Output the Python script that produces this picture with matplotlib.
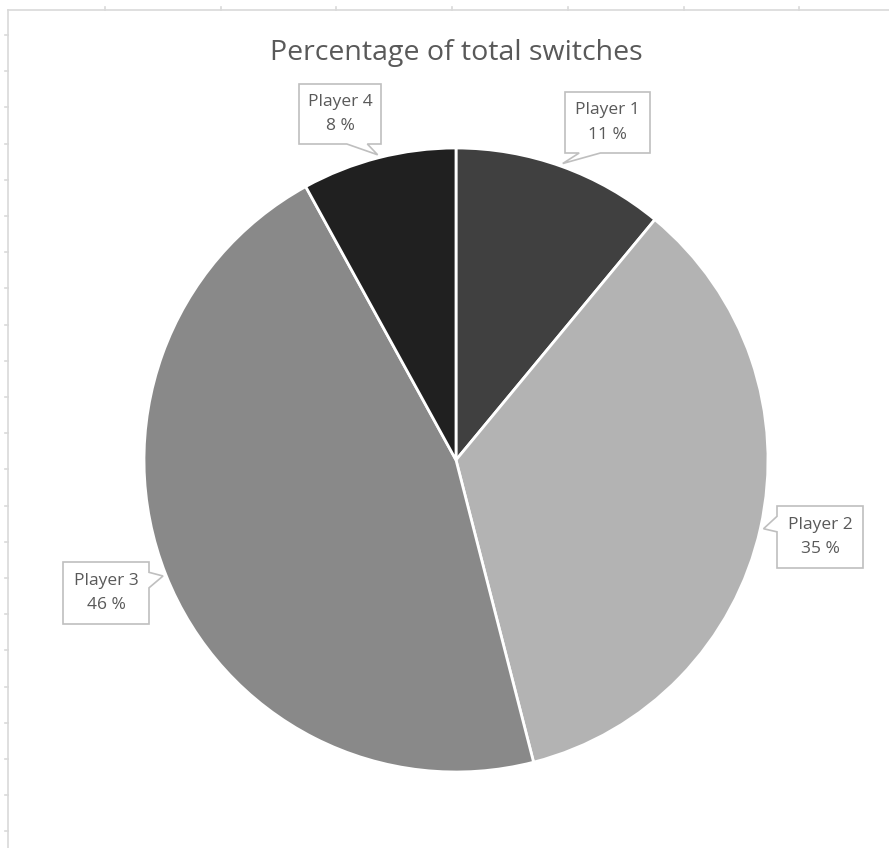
import numpy as np
import matplotlib

matplotlib.use("Agg")
import matplotlib.pyplot as plt
from matplotlib.patches import Polygon
from matplotlib.lines import Line2D

# ── data ──────────────────────────────────────────────────────────────
players = ["Player 1", "Player 2", "Player 3", "Player 4"]
share = [11, 35, 46, 8]
colors = ["#404040", "#b3b3b3", "#898989", "#202020"]

TITLE = "Percentage of total switches"
TXT = "#595959"
EDGE = "#bfbfbf"

W, H = 889, 848
fig = plt.figure(figsize=(W / 100, H / 100), dpi=100)


def fx(x, y):
    # pixel (from top-left) -> figure fraction
    return x / W, 1 - y / H


# chart frame and the little sheet-grid stubs around it
frame = dict(color="#d9d9d9", lw=1.2, transform=fig.transFigure)
fig.add_artist(Line2D([8 / W, 1], [1 - 10 / H] * 2, **frame))
fig.add_artist(Line2D([8 / W] * 2, [0, 1 - 10 / H], **frame))
for xs in np.arange(105, W, 115.7):
    fig.add_artist(Line2D([xs / W] * 2, [1 - 7 / H, 1 - 10 / H], **frame))
for ys in np.arange(35, H, 36.2):
    fig.add_artist(Line2D([5 / W, 8 / W], [1 - ys / H] * 2, **frame))

# pie: centre (456, 460) px, radius 312 px
cx, cy, R = 456, 460, 312
ax = fig.add_axes([(cx - R) / W, (H - cy - R) / H, 2 * R / W, 2 * R / H])
wedges, _ = ax.pie(share, colors=colors, startangle=90, counterclock=False,
                   wedgeprops=dict(edgecolor="white", linewidth=2))
ax.set_xlim(-1, 1)
ax.set_ylim(-1, 1)
ax.set_aspect("equal")
ax.axis("off")

fig.text(*fx(456, 53), TITLE, ha="center", va="center",
         fontsize=20.5, color=TXT, family=["Open Sans", "DejaVu Sans"])

# callout boxes: (left, top, width, height) in px
boxes = [(565, 92, 85, 61), (777, 506, 86, 62),
         (63, 562, 86, 62), (299, 84, 82, 60)]

fig.canvas.draw()
inv = fig.transFigure.inverted()


def callout(box, tip):
    l, t, w, h = box
    r, b = l + w, t + h
    mx, my = l + w / 2, t + h / 2
    dx, dy = tip[0] - mx, tip[1] - my
    lo, hi = (2 / 12, 5 / 12), (7 / 12, 10 / 12)
    if abs(dx) / w > abs(dy) / h:
        f0, f1 = lo if dy < 0 else hi
        y0, y1 = t + f0 * h, t + f1 * h
        if dx < 0:
            pts = [(l, t), (r, t), (r, b), (l, b), (l, y1), tip, (l, y0)]
        else:
            pts = [(l, t), (r, t), (r, y0), tip, (r, y1), (r, b), (l, b)]
    else:
        f0, f1 = lo if dx < 0 else hi
        x0, x1 = l + f0 * w, l + f1 * w
        if dy > 0:
            pts = [(l, t), (r, t), (r, b), (x1, b), tip, (x0, b), (l, b)]
        else:
            pts = [(l, t), (x0, t), tip, (x1, t), (r, t), (r, b), (l, b)]
    fig.add_artist(Polygon([fx(*p) for p in pts], closed=True,
                           facecolor="white", edgecolor=EDGE, lw=1.2,
                           transform=fig.transFigure, zorder=5))
    return mx, my


for wdg, name, val, box in zip(wedges, players, share, boxes):
    mid = np.deg2rad((wdg.theta1 + wdg.theta2) / 2)
    disp = ax.transData.transform((1.01 * np.cos(mid), 1.01 * np.sin(mid)))
    tx, ty = inv.transform(disp)
    tip = (tx * W, (1 - ty) * H)
    mx, my = callout(box, tip)
    fig.text(*fx(mx, my), f"{name}\n{val} %", ha="center", va="center",
             fontsize=12.5, color=TXT, linespacing=1.7, zorder=6,
             family=["Liberation Sans Narrow", "Open Sans", "DejaVu Sans"])

fig.savefig("out.png", dpi=100, facecolor="white")
